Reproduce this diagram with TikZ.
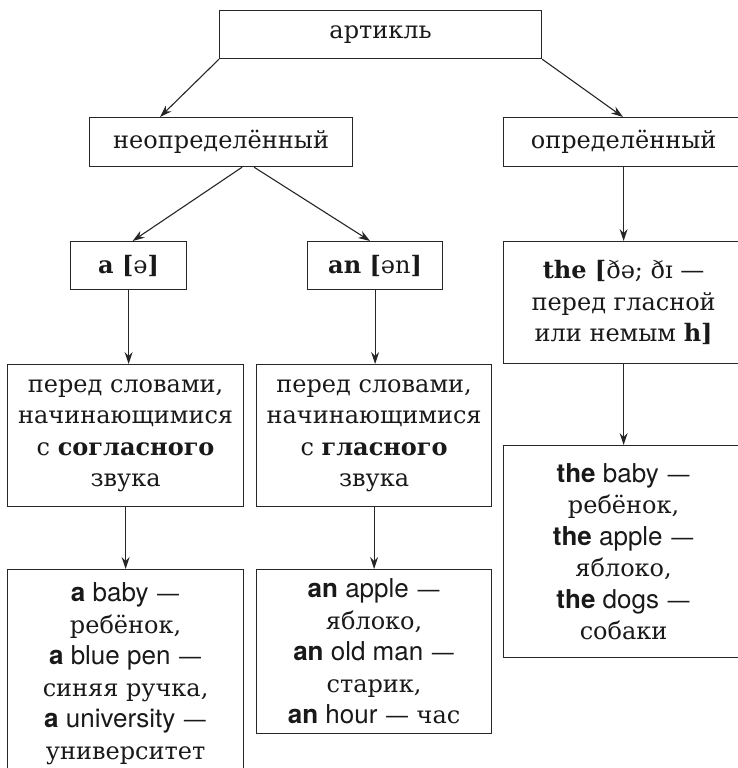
\documentclass[tikz,border=0pt]{standalone}
\usepackage{fontspec}
\setmainfont{DejaVu Serif}
\newfontfamily\engsans{TeX Gyre Heros}
\usetikzlibrary{arrows.meta}

\newcommand{\exword}[2]{{\engsans\fontsize{26}{31.5}\selectfont\textbf{#1} #2}}

\begin{document}
\begin{tikzpicture}[
		x=1pt, y=-1pt,
		box/.style={draw=black!85, line width=1.2pt, anchor=north west, inner sep=0pt,
			align=center, text=black!90, font=\fontsize{24}{31.5}\selectfont},
		arr/.style={-{Stealth[length=12pt,width=8pt]}, line width=1.1pt, draw=black!85}
		]
	\useasboundingbox (0,0) rectangle (738,768);
	\clip (0,0) rectangle (738,768);
	\node[box, minimum width=322pt, minimum height=48pt] (art) at (219,10) {артикль};
	\node[box, minimum width=263pt, minimum height=49pt] (indef) at (89,117) {неопределённый};
	\node[box, minimum width=240pt, minimum height=49pt] (def) at (503,117) {определённый};
	\node[box, minimum width=116pt, minimum height=48pt] (a) at (70,241) {\textbf{a [}ə\textbf{]}};
	\node[box, minimum width=135pt, minimum height=48pt] (an) at (307,241) {\textbf{an [}ən\textbf{]}};
	\node[box, minimum width=240pt, minimum height=122pt] (the) at (503,241)
		{\textbf{the [}ðə; ðɪ —\\перед гласной\\или немым \textbf{h]}};
	\node[box, minimum width=236pt, minimum height=142pt] (cons) at (7,364)
		{перед словами,\\начинающимися\\с \textbf{согласного}\\звука};
	\node[box, minimum width=235pt, minimum height=142pt] (vow) at (256,364)
		{перед словами,\\начинающимися\\с \textbf{гласного}\\звука};
	\node[box, minimum width=240pt, minimum height=212pt] (exthe) at (503,445)
		{\exword{the}{baby} —\\ребёнок,\\\exword{the}{apple} —\\яблоко,\\\exword{the}{dogs} —\\собаки};
	\node[box, minimum width=236pt, minimum height=208pt] (exa) at (7,569)
		{\exword{a}{baby} —\\ребёнок,\\\exword{a}{blue pen} —\\синяя ручка,\\\exword{a}{university} —\\университет};
	\node[box, minimum width=235pt, minimum height=164pt] (exan) at (256,569)
		{\exword{an}{apple} —\\яблоко,\\\exword{an}{old man} —\\старик,\\\exword{an}{hour} — час};

	\draw[arr] (art.south west) -- ([xshift=71pt]indef.north west);
	\draw[arr] (art.south east) -- ([xshift=120pt]def.north west);
	\draw[arr] ([xshift=21pt]indef.south) -- ([xshift=4pt]a.north);
	\draw[arr] ([xshift=33pt]indef.south) -- ([xshift=-5pt]an.north);
	\draw[arr] (a.south) -- (a.south |- cons.north);
	\draw[arr] (an.south) -- (an.south |- vow.north);
	\draw[arr] (cons.south) -- (cons.south |- exa.north);
	\draw[arr] (vow.south) -- (vow.south |- exan.north);
	\draw[arr] (def.south) -- (def.south |- the.north);
	\draw[arr] (the.south) -- (the.south |- exthe.north);
\end{tikzpicture}
\end{document}
